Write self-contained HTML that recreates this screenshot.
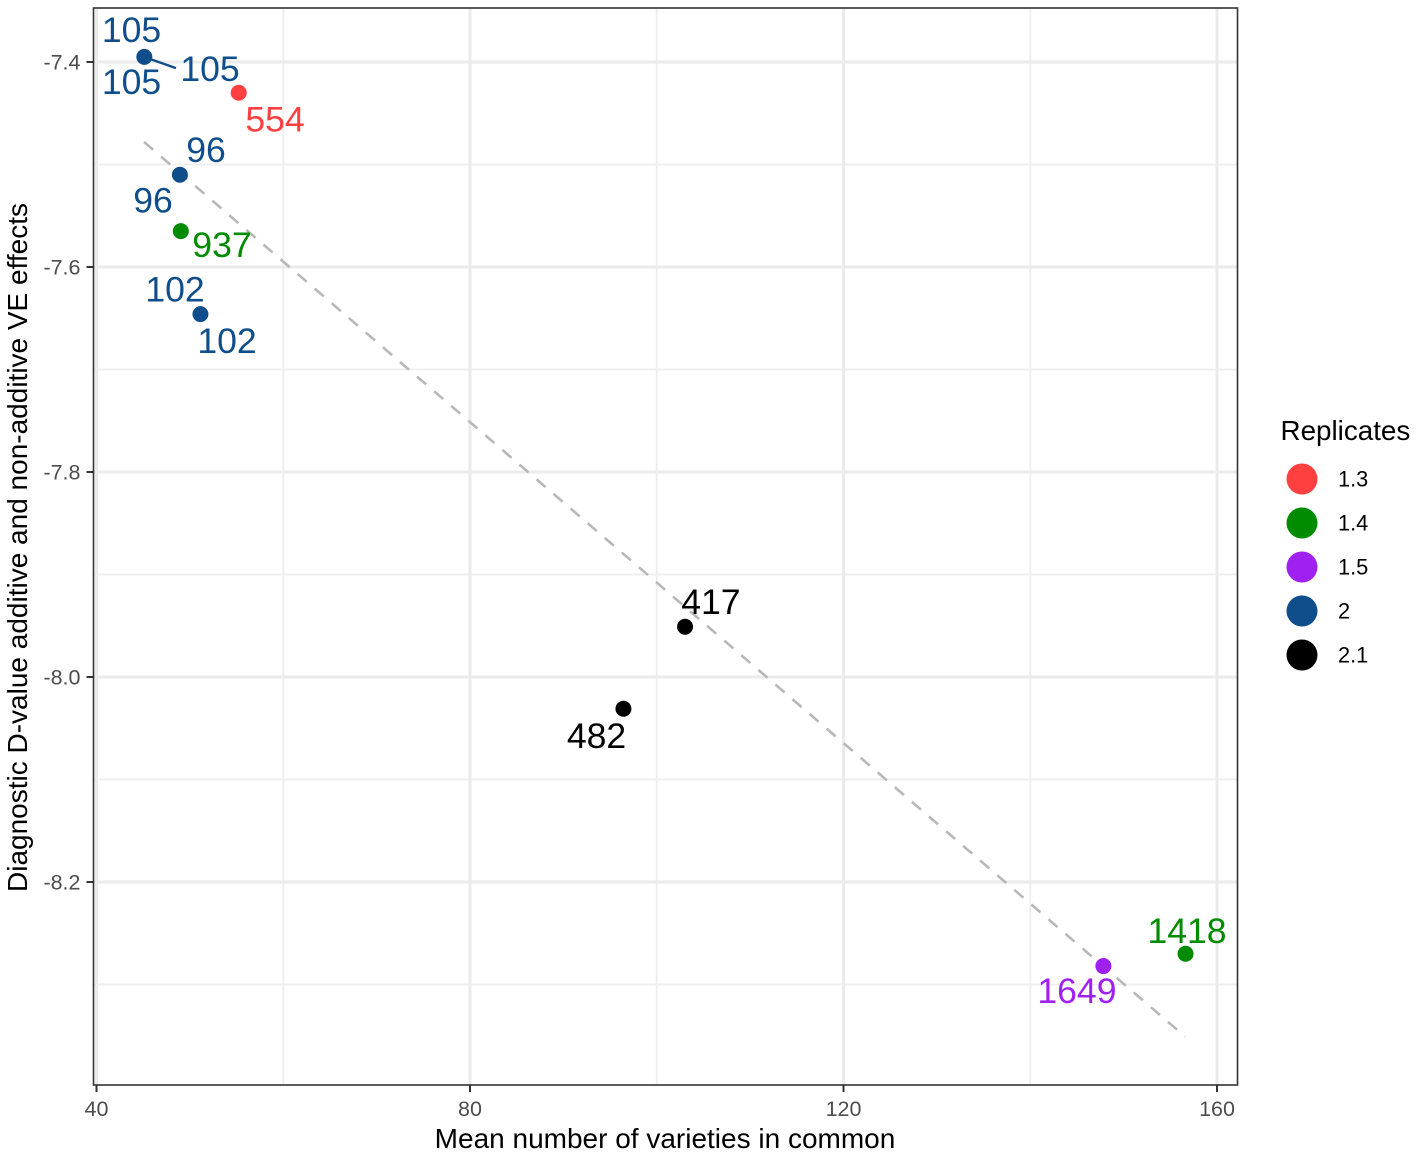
<!DOCTYPE html>
<html lang="en">
<head>
<meta charset="utf-8">
<title>Diagnostic D-value vs mean varieties in common</title>
<style>
html,body{margin:0;padding:0;background:#fff;}
svg{display:block;font-family:"Liberation Sans",Arial,sans-serif;}
</style>
</head>
<body>
<svg id="chart" width="1417" height="1156" viewBox="0 0 1417 1156" xmlns="http://www.w3.org/2000/svg"></svg>
<script>
const xMajorTicks = [40, 80, 120, 160];
const xMinorTicks = [60, 100, 140];
const yMajorTicks = [-7.4, -7.6, -7.8, -8.0, -8.2];
const yMinorTicks = [-7.5, -7.7, -7.9, -8.1, -8.3];
const xTickLabels = ['40', '80', '120', '160'];
const yTickLabels = ['-7.4', '-7.6', '-7.8', '-8.0', '-8.2'];

const groups = ['1.3', '1.4', '1.5', '2', '2.1'];
const groupColors = ['#FF4040', '#008B00', '#A020F0', '#104E8B', '#000000'];

const pointX = [45.09, 55.2, 48.9, 49.0, 51.1, 103.0, 96.4, 147.8, 156.6];
const pointY = [-7.395, -7.43, -7.51, -7.565, -7.646, -7.951, -8.031, -8.282, -8.27];
const pointGroup = ['2', '1.3', '2', '1.4', '2', '2.1', '2.1', '1.5', '1.4'];

const labelText = ['105', '105', '105', '554', '96', '96', '937', '102', '102', '417', '482', '1649', '1418'];
const labelX = [43.75, 43.75, 52.16, 59.12, 51.73, 46.05, 53.44, 48.41, 53.98, 105.8, 93.55, 145.0, 156.79];
const labelY = [-7.369, -7.4195, -7.407, -7.456, -7.486, -7.535, -7.5785, -7.622, -7.672, -7.9268, -8.0576, -8.3063, -8.2478];
const labelGroup = ['2', '2', '2', '1.3', '2', '2', '1.4', '2', '2', '2.1', '2.1', '1.5', '1.4'];

const connectorX = [45.09, 48.51];
const connectorY = [-7.395, -7.406];

const fitX = [45.09, 156.6];
const fitY = [-7.478, -8.351];

const panel = { left: 93.5, right: 1237.5, top: 8, bottom: 1085 };
const xScale = v => 96.5 + (v - 40) * 9.3375;
const yScale = v => 62 + (-7.4 - v) * 1025;
const colorOf = g => groupColors[groups.indexOf(g)];

const svg = document.getElementById('chart');
const NS = 'http://www.w3.org/2000/svg';
function make(tag, attrs, text) {
  const el = document.createElementNS(NS, tag);
  for (const k in attrs) el.setAttribute(k, attrs[k]);
  if (text !== undefined) el.textContent = text;
  svg.appendChild(el);
  return el;
}

xMinorTicks.forEach(t => {
  const el = make('line', { x1: xScale(t), x2: xScale(t), y1: panel.top, y2: panel.bottom, stroke: '#eeeeee', 'stroke-width': 1.8 });
  
  
});
yMinorTicks.forEach(t => {
  const el = make('line', { x1: panel.left, x2: panel.right, y1: yScale(t), y2: yScale(t), stroke: '#eeeeee', 'stroke-width': 1.8 });
  
  
});
xMajorTicks.forEach(t => {
  const el = make('line', { x1: xScale(t), x2: xScale(t), y1: panel.top, y2: panel.bottom, stroke: '#ebebeb', 'stroke-width': 3 });
  
  
});
yMajorTicks.forEach(t => {
  const el = make('line', { x1: panel.left, x2: panel.right, y1: yScale(t), y2: yScale(t), stroke: '#ebebeb', 'stroke-width': 3 });
  
  
});

const fit = make('line', { x1: xScale(fitX[0]), y1: yScale(fitY[0]), x2: xScale(fitX[1]), y2: yScale(fitY[1]), stroke: '#b8b8b8', 'stroke-width': 2.6, 'stroke-dasharray': '12 10.5' });



const conn = make('line', { x1: xScale(connectorX[0]), y1: yScale(connectorY[0]), x2: xScale(connectorX[1]), y2: yScale(connectorY[1]), stroke: colorOf('2'), 'stroke-width': 2.4 });



pointX.forEach((x, i) => {
  const el = make('circle', { cx: xScale(x) + 0.3, cy: yScale(pointY[i]), r: 8, fill: colorOf(pointGroup[i]) });
  
  
});

labelText.forEach((t, i) => {
  const el = make('text', { x: xScale(labelX[i]), y: yScale(labelY[i]) + 12, 'text-anchor': 'middle', 'font-size': 35.6, fill: colorOf(labelGroup[i]) }, t);
  
  
});

const border = make('rect', { x: panel.left, y: panel.top, width: panel.right - panel.left, height: panel.bottom - panel.top, fill: 'none', stroke: '#333333', 'stroke-width': 1.6 });



xMajorTicks.forEach((t, i) => {
  const tick = make('line', { x1: xScale(t), x2: xScale(t), y1: panel.bottom, y2: panel.bottom + 7, stroke: '#333333', 'stroke-width': 2 });
  
  
  const lab = make('text', { x: xScale(t), y: panel.bottom + 31, 'text-anchor': 'middle', 'font-size': 21.5, fill: '#4d4d4d' }, xTickLabels[i]);
  
  
});
yMajorTicks.forEach((t, i) => {
  const tick = make('line', { x1: panel.left - 7, x2: panel.left, y1: yScale(t), y2: yScale(t), stroke: '#333333', 'stroke-width': 2 });
  
  
  const lab = make('text', { x: panel.left - 13, y: yScale(t) + 7.5, 'text-anchor': 'end', 'font-size': 21.5, fill: '#4d4d4d' }, yTickLabels[i]);
  
  
});

const xTitle = make('text', { x: 665, y: 1148, 'text-anchor': 'middle', 'font-size': 28, fill: '#000' }, 'Mean number of varieties in common');



const yTitle = make('text', { x: 0, y: 0, transform: 'translate(27,547.5) rotate(-90)', 'text-anchor': 'middle', 'font-size': 28, fill: '#000' }, 'Diagnostic D-value additive and non-additive VE effects');



const legendTitle = make('text', { x: 1280.5, y: 440, 'font-size': 27.8, fill: '#000' }, 'Replicates');



groups.forEach((g, i) => {
  const cy = 479 + i * 44;
  const key = make('circle', { cx: 1302, cy: cy, r: 15.5, fill: groupColors[i] });
  
  
  const lab = make('text', { x: 1338, y: cy + 7.5, 'font-size': 21.8, fill: '#000' }, g);
  
  
});
</script>
</body>
</html>
